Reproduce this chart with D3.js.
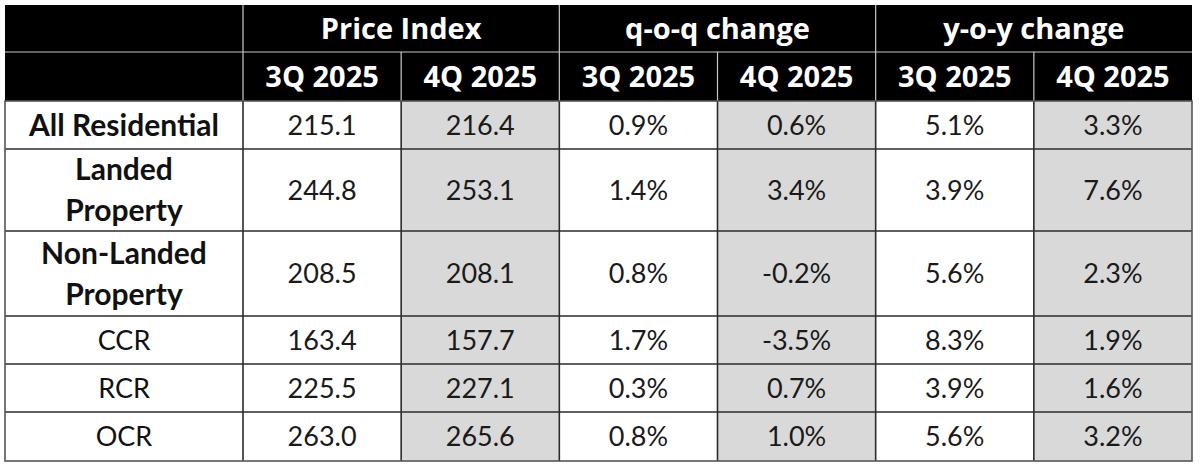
<!DOCTYPE html>
<html>
<head>
<meta charset="utf-8">
<script src="https://cdn.jsdelivr.net/npm/d3@7"></script>
<style>
  body { margin: 0; background: #fff; }
  svg text { font-family: Lato, "Open Sans", sans-serif; }
</style>
</head>
<body>
<div id="wrapper"></div>
<script>
// data
const groups = ["Price Index", "q-o-q change", "y-o-y change"]
const quarters = ["3Q 2025", "4Q 2025"]
const rowLabels = [
  ["All Residential"],
  ["Landed", "Property"],
  ["Non-Landed", "Property"],
  ["CCR"],
  ["RCR"],
  ["OCR"]
]
const boldRows = [true, true, true, false, false, false]
const priceIndex3Q = [215.1, 244.8, 208.5, 163.4, 225.5, 263.0]
const priceIndex4Q = [216.4, 253.1, 208.1, 157.7, 227.1, 265.6]
const qoq3Q = [0.9, 1.4, 0.8, 1.7, 0.3, 0.8]
const qoq4Q = [0.6, 3.4, -0.2, -3.5, 0.7, 1.0]
const yoy3Q = [5.1, 3.9, 5.6, 8.3, 3.9, 5.6]
const yoy4Q = [3.3, 7.6, 2.3, 1.9, 1.6, 3.2]

function drawTable() {
  const width = 1200
  const height = 469

  const dims = {
    left: 5,
    labelRight: 243,
    right: 1192,
    top: 5,
    rowHeights: [47, 49, 48, 82, 85, 48, 48, 49]
  }
  const rowEdges = [dims.top, ...d3.cumsum(dims.rowHeights).map(h => dims.top + h)]

  // hyphen instead of unicode minus, like the source
  const locale = d3.formatLocale({ decimal: ".", thousands: ",", grouping: [3], currency: ["", ""], minus: "-" })
  const oneDp = locale.format(".1f")
  const pct = d => oneDp(d) + "%"

  const columns = [
    { values: priceIndex3Q, fmt: oneDp },
    { values: priceIndex4Q, fmt: oneDp },
    { values: qoq3Q, fmt: pct },
    { values: qoq4Q, fmt: pct },
    { values: yoy3Q, fmt: pct },
    { values: yoy4Q, fmt: pct }
  ]

  const xScale = d3.scaleBand()
    .domain(d3.range(columns.length))
    .range([dims.labelRight, dims.right])

  const groupScale = d3.scaleBand()
    .domain(groups)
    .range([dims.labelRight, dims.right])

  const svg = d3.select("#wrapper")
    .append("svg")
      .attr("width", width)
      .attr("height", height)

  // header background
  svg.append("rect")
    .attr("x", dims.left)
    .attr("y", rowEdges[0])
    .attr("width", dims.right - dims.left)
    .attr("height", rowEdges[2] - rowEdges[0])
    .attr("fill", "#000")

  // grey cells for 4Q columns
  const body = svg.append("g")
  columns.forEach((col, ci) => {
    if (ci % 2 === 1) {
      body.append("rect")
        .attr("x", xScale(ci))
        .attr("y", rowEdges[2])
        .attr("width", xScale.bandwidth())
        .attr("height", rowEdges[8] - rowEdges[2])
        .attr("fill", "#d9d9d9")
    }
  })

  // header lines (light)
  const hdr = svg.append("g")
    .attr("stroke", "#c8c8c8")
    .attr("stroke-width", 1.2)
  hdr.append("line")
    .attr("x1", dims.left).attr("x2", dims.right)
    .attr("y1", rowEdges[1]).attr("y2", rowEdges[1])
  hdr.selectAll(".gline")
    .data(groups)
    .join("line")
      .attr("x1", d => groupScale(d)).attr("x2", d => groupScale(d))
      .attr("y1", rowEdges[0]).attr("y2", rowEdges[2])
  hdr.selectAll(".qline")
    .data(d3.range(columns.length).filter(i => i % 2 === 1))
    .join("line")
      .attr("x1", d => xScale(d)).attr("x2", d => xScale(d))
      .attr("y1", rowEdges[1]).attr("y2", rowEdges[2])

  // header text
  const headFont = "'Open Sans', Lato, sans-serif"
  svg.selectAll(".gtext")
    .data(groups)
    .join("text")
      .attr("x", d => groupScale(d) + groupScale.bandwidth() / 2)
      .attr("y", (rowEdges[0] + rowEdges[1]) / 2)
      .attr("dy", "0.35em")
      .attr("text-anchor", "middle")
      .attr("fill", "#fff")
      .attr("font-weight", "bold")
      .attr("font-size", 29)
      .style("font-family", headFont)
      .text(d => d)

  svg.selectAll(".qtext")
    .data(d3.range(columns.length))
    .join("text")
      .attr("x", d => xScale(d) + xScale.bandwidth() / 2)
      .attr("y", (rowEdges[1] + rowEdges[2]) / 2)
      .attr("dy", "0.35em")
      .attr("text-anchor", "middle")
      .attr("fill", "#fff")
      .attr("font-weight", "bold")
      .attr("font-size", 29)
      .style("font-family", headFont)
      .text(d => quarters[d % 2])

  // body grid lines (dark)
  const grid = svg.append("g")
    .attr("stroke", "#2b2b2b")
    .attr("stroke-width", 1.6)
    .attr("fill", "none")
  grid.selectAll(".hline")
    .data(rowEdges.slice(3, 8))
    .join("line")
      .attr("x1", dims.left).attr("x2", dims.right)
      .attr("y1", d => d).attr("y2", d => d)
  grid.selectAll(".vline")
    .data([dims.labelRight, ...d3.range(1, columns.length).map(i => xScale(i))])
    .join("line")
      .attr("x1", d => d).attr("x2", d => d)
      .attr("y1", rowEdges[2]).attr("y2", rowEdges[8])
  grid.append("rect")
    .attr("x", dims.left)
    .attr("y", rowEdges[2])
    .attr("width", dims.right - dims.left)
    .attr("height", rowEdges[8] - rowEdges[2])
    .attr("stroke", "#555")

  // row labels
  const lineGap = 41
  rowLabels.forEach((lines, ri) => {
    const cy = (rowEdges[ri + 2] + rowEdges[ri + 3]) / 2
    const bold = boldRows[ri]
    const t = svg.append("text")
      .attr("x", (dims.left + dims.labelRight) / 2)
      .attr("y", cy - (lines.length - 1) * lineGap / 2)
      .attr("text-anchor", "middle")
      .attr("fill", "#111")
      .attr("font-weight", bold ? "bold" : "normal")
      .attr("font-size", bold ? 30 : 27)
    lines.forEach((line, li) => {
      t.append("tspan")
        .attr("x", (dims.left + dims.labelRight) / 2)
        .attr("dy", li === 0 ? "0.36em" : lineGap)
        .text(line)
    })
  })

  // values
  columns.forEach((col, ci) => {
    svg.selectAll(".v" + ci)
      .data(col.values)
      .join("text")
        .attr("x", xScale(ci) + xScale.bandwidth() / 2)
        .attr("y", (d, i) => (rowEdges[i + 2] + rowEdges[i + 3]) / 2)
        .attr("dy", "0.36em")
        .attr("text-anchor", "middle")
        .attr("fill", "#1a1a1a")
        .attr("font-size", 27)
        .text(d => col.fmt(d))
  })
}
drawTable()
</script>
</body>
</html>
